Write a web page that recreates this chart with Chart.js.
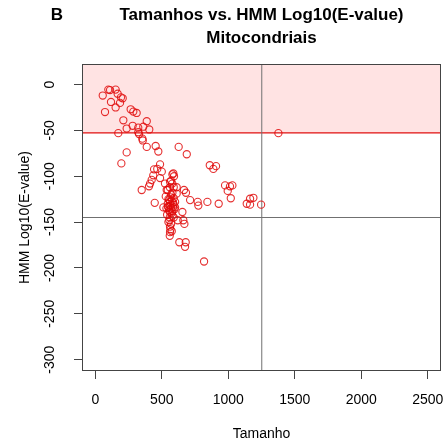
<!DOCTYPE html>
<html><head><meta charset="utf-8">
<script src="https://cdn.jsdelivr.net/npm/chart.js@4/dist/chart.umd.min.js"></script>
<style>html,body{margin:0;padding:0;background:#fff}#wrap{width:448px;height:447px}</style>
</head><body><div id="wrap"><canvas id="c" width="448" height="447"></canvas></div>
<script>
const sizes = [98,111,153,56,168,206,193,118,186,153,73,266,286,311,211,387,281,236,323,361,406,173,323,329,354,236,387,454,474,627,688,196,487,442,466,500,861,888,908,587,592,424,487,562,579,412,349,404,524,537,612,667,682,612,976,1013,1031,996,1019,447,549,713,770,775,843,928,1139,1164,1189,1164,1247,655,512,600,620,670,557,562,562,632,680,675,818,1377,357,436,662,530,550,570,590,545,565,585,555,575,595,540,560,580,550,570,565,575,560,580,600,535,590,580,570,560,590,545,555,575,565,585,560,570,580,548,590,562];
const logEvalues = [-5.5,-6,-5.5,-12,-10,-15,-14,-19,-20,-25,-30,-27,-29.5,-31,-39,-40,-45,-48,-47,-46,-49,-53,-52,-54,-59,-74,-68,-67,-73,-68,-76,-86,-87,-92.5,-92,-95,-88,-92,-89,-97,-100,-104,-102,-106,-108,-108,-115,-111,-108,-115,-112,-115,-118,-119,-110,-111,-110,-116,-124,-129,-134,-126,-128,-132,-128,-130,-130,-124.5,-123.5,-131,-131,-139,-134,-134,-148,-152,-148,-155,-161,-172,-172,-177,-193,-53,-61,-99,-148,-122,-125,-120,-124,-130,-132,-129,-137,-140,-136,-142,-145,-143,-150,-152,-158,-160,-165,-118,-128,-135,-145,-98,-105,-112,-112,-115,-126,-127,-123,-134,-139,-135,-138,-133,-131,-128];
const xTicks = [0,500,1000,1500,2000,2500];
const yTicks = [0,-50,-100,-150,-200,-250,-300];
const xRange = [-100, 2600];
const yRange = [-312.4, 22.4];
const redThreshold = -52.8;
const grayY = -145;
const grayX = 1252;

const FONT = "'Liberation Sans', Arial, sans-serif";
const pts = sizes.map((s,i)=>({x:s,y:logEvalues[i]}));

const overlay = {
  id:'overlay',
  afterDraw(chart){
    const {ctx, chartArea:a} = chart;
    ctx.save();
    ctx.strokeStyle='#444'; ctx.lineWidth=1;
    ctx.strokeRect(a.left+0.5, a.top+0.5, a.right-a.left-1, a.bottom-a.top-1);
    ctx.fillStyle='#000';
    ctx.font = "bold 17px " + FONT;
    ctx.textAlign='center'; ctx.textBaseline='middle';
    const cx = (a.left+a.right)/2;
    ctx.fillText('Tamanhos vs. HMM Log10(E-value)', cx, 15);
    ctx.fillText('Mitocondriais', cx, 38);
    ctx.fillText('B', 57, 15);
    ctx.restore();
  }
};

new Chart(document.getElementById('c'), {
  type:'scatter',
  data:{datasets:[
    {type:'line', data:[{x:xRange[0],y:redThreshold},{x:xRange[1],y:redThreshold}], borderColor:'#e01010', borderWidth:1.2, pointRadius:0, fill:'end', backgroundColor:'#ffe3e3', order:5},
    {type:'line', data:[{x:xRange[0],y:grayY},{x:xRange[1],y:grayY}], borderColor:'#707070', borderWidth:1, pointRadius:0, fill:false, order:4},
    {type:'line', data:[{x:grayX,y:yRange[0]},{x:grayX,y:yRange[1]}], borderColor:'#707070', borderWidth:1, pointRadius:0, fill:false, order:4},
    {data:pts, pointRadius:3.6, pointHoverRadius:3.6, borderWidth:1.1, borderColor:'rgba(225,10,10,0.85)', backgroundColor:'rgba(0,0,0,0)', pointStyle:'circle', order:1}
  ]},
  options:{
    responsive:false, animation:false,
    layout:{padding:{top:64, right:7, left:0, bottom:0}},
    plugins:{legend:{display:false}, tooltip:{enabled:false}},
    scales:{
      x:{type:'linear', min:xRange[0], max:xRange[1],
        afterBuildTicks:s=>{s.ticks=xTicks.map(v=>({value:v}));},
        afterFit:s=>{s.height=76; s.paddingLeft=0; s.paddingRight=0;},
        grid:{display:true, drawOnChartArea:false, drawTicks:true, tickLength:8, color:'#444'},
        border:{display:false},
        ticks:{color:'#000', font:{family:FONT,size:14}, padding:13, maxRotation:0, autoSkip:false, callback:v=>String(v)},
        title:{display:true, text:'Tamanho', color:'#000', font:{family:FONT,size:14}, padding:{top:0,bottom:4}}
      },
      y:{type:'linear', min:yRange[0], max:yRange[1],
        afterBuildTicks:s=>{s.ticks=yTicks.map(v=>({value:v}));},
        afterFit:s=>{s.width=82; s.paddingTop=0; s.paddingBottom=0;},
        grid:{display:true, drawOnChartArea:false, drawTicks:true, tickLength:8, color:'#444'},
        border:{display:false},
        ticks:{color:'#000', font:{family:FONT,size:14}, padding:10, minRotation:90, maxRotation:90, crossAlign:'center', autoSkip:false, callback:v=>String(v)},
        title:{display:true, text:'HMM Log10(E-value)', color:'#000', font:{family:FONT,size:14}, padding:{top:17,bottom:0}}
      }
    }
  },
  plugins:[overlay]
});
</script></body></html>
